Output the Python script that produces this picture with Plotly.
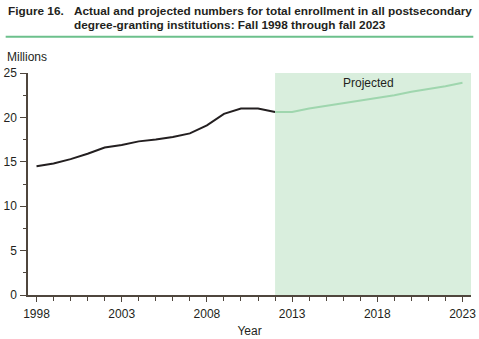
import plotly.graph_objects as go

years_actual = list(range(1998, 2013))
enroll_actual = [14.5, 14.8, 15.3, 15.9, 16.6, 16.9, 17.3, 17.5, 17.8, 18.2, 19.1, 20.4, 21.0, 21.0, 20.6]
years_proj = list(range(2012, 2024))
enroll_proj = [20.6, 20.6, 21.0, 21.3, 21.6, 21.9, 22.2, 22.5, 22.9, 23.2, 23.5, 23.9]
x_ticks = [1998, 2003, 2008, 2013, 2018, 2023]
y_ticks = [0, 5, 10, 15, 20, 25]

W, H = 479, 339
L, R, T, B = 28.3, 470.7, 73.3, 295.3
pw, ph = R - L, B - T

def px(x):
    return (x - L) / pw

def py(y):
    return (B - y) / ph

FONT = "Liberation Sans, Arial, Helvetica, sans-serif"

fig = go.Figure()
fig.add_trace(go.Scatter(x=years_actual, y=enroll_actual, mode="lines",
                         line=dict(color="#231f20", width=2), hoverinfo="skip"))
fig.add_trace(go.Scatter(x=years_proj, y=enroll_proj, mode="lines",
                         line=dict(color="#9fd6ae", width=2), hoverinfo="skip"))

fig.add_shape(type="rect", xref="x", yref="y", x0=2012, x1=2023.5, y0=0, y1=25,
              fillcolor="#d9eedd", line=dict(width=0), layer="below")
fig.add_shape(type="line", xref="paper", yref="paper", x0=px(6), x1=px(473),
              y0=py(37), y1=py(37), line=dict(color="#6cc08c", width=2))

annos = [
    dict(text="<b>Figure 16.</b>", x=px(6), y=py(11.5), xanchor="left", yanchor="middle", size=11.8),
    dict(text="<b>Actual and projected numbers for total enrollment in all postsecondary</b>",
         x=px(72.5), y=py(11.5), xanchor="left", yanchor="middle", size=11.8),
    dict(text="<b>degree-granting institutions: Fall 1998 through fall 2023</b>",
         x=px(72.5), y=py(25.5), xanchor="left", yanchor="middle", size=11.8),
    dict(text="Millions", x=px(5.5), y=py(57), xanchor="left", yanchor="middle", size=12),
]
for a in annos:
    s = a.pop("size")
    fig.add_annotation(xref="paper", yref="paper", showarrow=False,
                       font=dict(family=FONT, size=s, color="#231f20"), **a)
fig.add_annotation(xref="x", yref="y", x=2017.5, y=py(83) * 25, text="Projected",
                   showarrow=False, xanchor="center", yanchor="middle",
                   font=dict(family=FONT, size=12, color="#231f20"))

axis_color = "#4f463d"
fig.update_layout(
    width=W, height=H,
    margin=dict(l=L, r=W - R, t=T, b=H - B, pad=0, autoexpand=False),
    paper_bgcolor="white", plot_bgcolor="white",
    showlegend=False,
    font=dict(family=FONT, size=12, color="#231f20"),
    xaxis=dict(range=[1997.5, 2023.5], tickvals=x_ticks, ticks="outside", ticklen=5,
               tickcolor=axis_color, tickwidth=1, showline=True, linecolor=axis_color,
               linewidth=1.5, showgrid=False, zeroline=False, automargin=False,
               tickfont=dict(size=12), ticklabelstandoff=2,
               minor=dict(dtick=1, tick0=1998, ticks="outside", ticklen=4,
                          tickcolor=axis_color, showgrid=False),
               title=dict(text="Year", standoff=6, font=dict(size=12))),
    yaxis=dict(range=[0, 25], tickvals=y_ticks, ticks="outside", ticklen=6,
               tickcolor=axis_color, tickwidth=1, showline=True, linecolor=axis_color,
               linewidth=1.5, showgrid=False, zeroline=False, automargin=False,
               tickfont=dict(size=12), ticklabelstandoff=1,
               minor=dict(dtick=2.5, tick0=0, ticks="outside", ticklen=3,
                          tickcolor=axis_color, showgrid=False)),
)

fig.write_html("out.html")
